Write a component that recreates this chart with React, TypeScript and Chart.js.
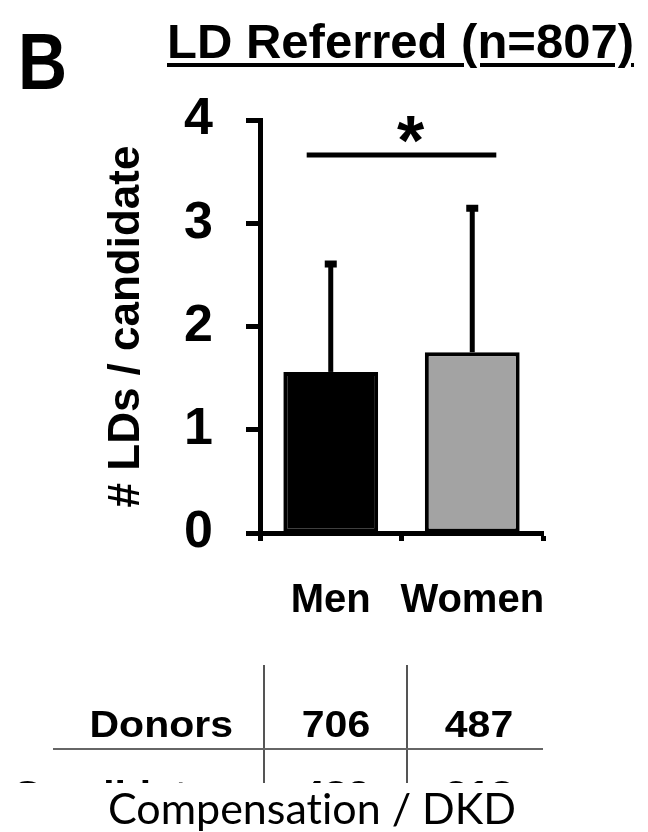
import React, { useEffect, useRef } from "react";
import { Chart, registerables } from "chart.js";

Chart.register(...registerables);

// ---- data ----
const categories = ["Men", "Women"];
const meanValues = [1.56, 1.75];
const errorUpper = [2.61, 3.15];
const barColors = ["#000000", "#a3a3a3"];
const yTicks = [0, 1, 2, 3, 4];
const sigLevel = 3.66;
const sigLabel = "*";
const panelLabel = "B";
const chartTitle = "LD Referred (n=807)";
const yTitle = "# LDs / candidate";
const tableRowLabels = ["Donors", "Candidates"];
const tableMen = ["706", "489"];
const tableWomen = ["487", "318"];
const caption = "Compensation / DKD";

const FONT = "'Liberation Sans', Arial, Helvetica, sans-serif";

const errorBarPlugin = {
  id: "errorBarsAndSig",
  afterDatasetsDraw(chart: any) {
    const { ctx, scales } = chart;
    const x = scales.x;
    const y = scales.y;
    const meta = chart.getDatasetMeta(0);
    ctx.save();
    ctx.strokeStyle = "#000";
    ctx.fillStyle = "#000";
    ctx.lineWidth = 5;
    meta.data.forEach((bar: any, i: number) => {
      const xc = bar.x;
      const yTop = y.getPixelForValue(errorUpper[i]);
      ctx.beginPath();
      ctx.moveTo(xc, bar.y);
      ctx.lineTo(xc, yTop);
      ctx.stroke();
      ctx.fillRect(xc - 6, yTop - 3, 12, 7);
    });
    const x0 = x.getPixelForValue(0);
    const x1 = x.getPixelForValue(1);
    const cw = x1 - x0;
    const ys = y.getPixelForValue(sigLevel);
    ctx.beginPath();
    ctx.moveTo(x0 - 0.17 * cw, ys);
    ctx.lineTo(x1 + 0.17 * cw, ys);
    ctx.stroke();
    ctx.font = `bold 70px ${FONT}`;
    ctx.textAlign = "center";
    ctx.textBaseline = "alphabetic";
    ctx.fillText(sigLabel, (x0 + x1) / 2 + 9, ys + 10);
    ctx.restore();
  },
};

function BarChart() {
  const ref = useRef<HTMLCanvasElement | null>(null);
  useEffect(() => {
    if (!ref.current) return;
    const chart = new Chart(ref.current, {
      type: "bar",
      data: {
        labels: categories,
        datasets: [
          {
            data: meanValues,
            backgroundColor: barColors,
            borderColor: "#000",
            borderWidth: 4,
            borderSkipped: false,
            barPercentage: 0.67,
            categoryPercentage: 1,
          },
        ],
      },
      options: {
        animation: false,
        responsive: true,
        maintainAspectRatio: false,
        layout: { padding: { top: 120, right: 105, left: 0, bottom: 199 } },
        plugins: { legend: { display: false }, tooltip: { enabled: false } },
        scales: {
          x: {
            offset: true,
            ticks: {
              color: "#000",
              font: { family: FONT, size: 40, weight: "bold" },
              padding: 36,
              maxRotation: 0,
              minRotation: 0,
              autoSkip: false,
            },
            grid: {
              offset: true,
              drawOnChartArea: false,
              drawTicks: true,
              tickLength: 8,
              tickWidth: 5,
              tickColor: "#000",
            },
            border: { display: true, color: "#000", width: 5 },
            afterFit: (s: any) => {
              s.height = 100;
            },
          },
          y: {
            min: 0,
            max: 4,
            afterBuildTicks: (s: any) => {
              s.ticks = yTicks.map((v) => ({ value: v }));
            },
            ticks: {
              color: "#000",
              font: { family: FONT, size: 52, weight: "bold" },
              padding: 33,
            },
            grid: {
              drawOnChartArea: false,
              drawTicks: true,
              tickLength: 14,
              tickWidth: 5,
              tickColor: "#000",
            },
            border: { display: true, color: "#000", width: 5 },
            title: {
              display: true,
              text: yTitle,
              color: "#000",
              font: { family: FONT, size: 44, weight: "bold" },
              padding: { top: 100, bottom: 0 },
            },
            afterFit: (s: any) => {
              s.width = 260;
            },
          },
        },
      },
      plugins: [errorBarPlugin],
    });
    return () => chart.destroy();
  }, []);
  return (
    <div style={{ position: "absolute", left: 0, top: 0, width: 648, height: 832 }}>
      <canvas ref={ref} />
    </div>
  );
}

const textBase: React.CSSProperties = {
  position: "absolute",
  fontFamily: FONT,
  fontWeight: "bold",
  color: "#000",
  lineHeight: 1,
  whiteSpace: "nowrap",
};

export default function App() {
  return (
    <div
      style={{
        position: "fixed",
        left: 0,
        top: 0,
        width: 648,
        height: 832,
        background: "#fff",
        overflow: "hidden",
      }}
    >
      <BarChart />
      <div style={{ ...textBase, left: 18, top: 22, fontSize: 80, transform: "scaleX(0.85)", transformOrigin: "left top" }}>
        {panelLabel}
      </div>
      <div
        style={{
          ...textBase,
          left: 167,
          top: 17,
          fontSize: 49,
          textDecoration: "underline",
          textDecorationThickness: 4,
          textUnderlineOffset: 5,
        }}
      >
        {chartTitle}
      </div>
      {/* table, clipped at the bottom */}
      <div style={{ position: "absolute", left: 0, top: 0, width: 648, height: 783, overflow: "hidden" }}>
        <div style={{ position: "absolute", left: 263, top: 665, width: 2, height: 130, background: "#555" }} />
        <div style={{ position: "absolute", left: 406, top: 665, width: 2, height: 130, background: "#555" }} />
        <div style={{ position: "absolute", left: 53, top: 748, width: 490, height: 2, background: "#666" }} />
        {tableRowLabels.map((lab, i) => (
          <React.Fragment key={lab}>
            <div
              style={{
                ...textBase,
                fontSize: 41,
                top: 704 + i * 70,
                right: 648 - 233,
                textAlign: "right",
                transform: "scaleY(0.9)",
              }}
            >
              {lab}
            </div>
            <div
              style={{
                ...textBase,
                fontSize: 41,
                top: 704 + i * 70,
                left: 296,
                width: 80,
                textAlign: "center",
                transform: "scaleY(0.9)",
              }}
            >
              {tableMen[i]}
            </div>
            <div
              style={{
                ...textBase,
                fontSize: 41,
                top: 704 + i * 70,
                left: 439,
                width: 80,
                textAlign: "center",
                transform: "scaleY(0.9)",
              }}
            >
              {tableWomen[i]}
            </div>
          </React.Fragment>
        ))}
      </div>
      <div
        style={{
          position: "absolute",
          left: 0,
          width: 648,
          top: 786,
          textAlign: "center",
          fontFamily: "Lato, 'Open Sans', sans-serif",
          fontSize: 43,
          lineHeight: 1,
          color: "#000",
          fontVariantLigatures: "none",
        }}
      >
        <span style={{ position: "relative", left: -12 }}>{caption}</span>
      </div>
    </div>
  );
}
